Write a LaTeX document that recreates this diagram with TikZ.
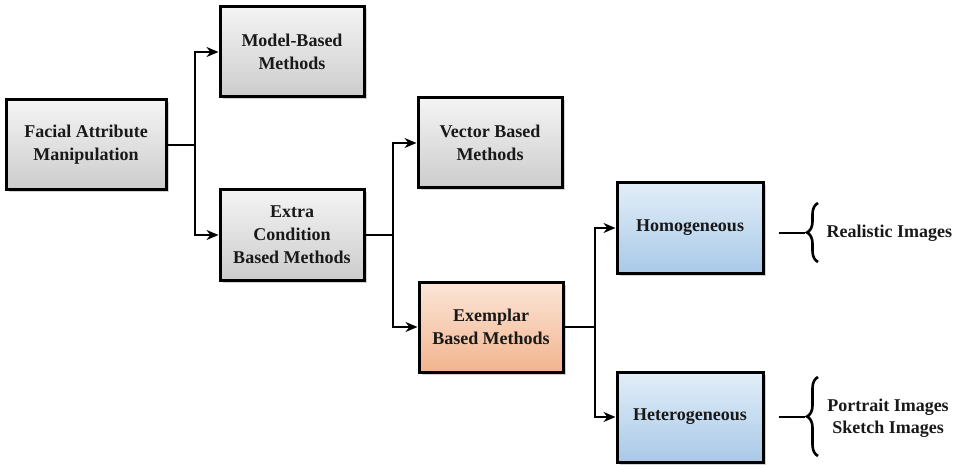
\documentclass[tikz,border=0pt]{standalone}
\usepackage{fontspec}
\setmainfont{Liberation Serif}
\usetikzlibrary{arrows.meta,shadows,decorations.pathreplacing}
\definecolor{boxtop}{HTML}{F4F4F4}
\definecolor{boxbot}{HTML}{CCCCCC}
\definecolor{bluetop}{HTML}{E2EEF8}
\definecolor{bluebot}{HTML}{A9C9E8}
\definecolor{orgtop}{HTML}{FCE6D8}
\definecolor{orgbot}{HTML}{F2B48E}
\tikzset{
  box/.style={draw=black, line width=3pt, minimum width=144pt, minimum height=90pt,
    align=center, font=\fontsize{18}{23}\selectfont\bfseries, text=black!90,
    top color=boxtop, bottom color=boxbot,
    drop shadow={shadow xshift=2.5pt, shadow yshift=-2.5pt, opacity=0.35}},
  bluebox/.style={box, top color=bluetop, bottom color=bluebot, minimum width=146pt},
  orgbox/.style={box, top color=orgtop, bottom color=orgbot},
  conn/.style={line width=2.6pt, black},
  arr/.style={conn, -{Stealth[length=12pt,width=10pt]}},
  lbl/.style={font=\fontsize{18}{22}\selectfont\bfseries, text=black!90, align=center},
  brace/.style={line width=2.6pt, decorate, decoration={brace, amplitude=11pt}}
}
\begin{document}
\begin{tikzpicture}[x=1pt,y=-1pt]
\useasboundingbox (0,0) rectangle (958,465);
% boxes
\node[box, minimum width=160pt] (fam) at (86,145) {Facial Attribute\\Manipulation};
\node[box] (model) at (292,52) {Model-Based\\Methods};
\node[box] (extra) at (292,235) {Extra\\Condition\\Based Methods};
\node[box] (vector) at (490,143) {Vector Based\\Methods};
\node[orgbox] (exemplar) at (491,327) {Exemplar\\Based Methods};
\node[bluebox] (homo) at (690,228) {Homogeneous};
\node[bluebox] (hetero) at (690,417) {Heterogeneous};
% branching connectors
\coordinate (j1) at (195,145);
\coordinate (j2) at (393,235);
\coordinate (j3) at (595,327);
\draw[conn] (fam.east) -- (j1);
\draw[arr] (j1) |- (model.west);
\draw[arr] (j1) |- (extra.west);
\draw[conn] (extra.east) -- (j2);
\draw[arr] (j2) |- (vector.west);
\draw[arr] (j2) |- (exemplar.west);
\draw[conn] (exemplar.east) -- (j3);
\draw[arr] (j3) |- (homo.west);
\draw[arr] (j3) |- (hetero.west);
% braces with leaf labels
\coordinate (b1) at (805,233);
\coordinate (b2) at (805,417);
\draw[conn] (homo.east) ++(14,5) coordinate (h1) (h1) -- (b1);
\draw[brace] (818,262) -- (818,203);
\node[lbl, anchor=west] (real) at (823,233) {Realistic Images};
\draw[conn] (hetero.east) ++(14,0) coordinate (h2) (h2) -- (b2);
\draw[brace] (818,456) -- (818,377);
\node[lbl] (portrait) at (888,418) {Portrait Images\\Sketch Images};
\end{tikzpicture}
\end{document}
